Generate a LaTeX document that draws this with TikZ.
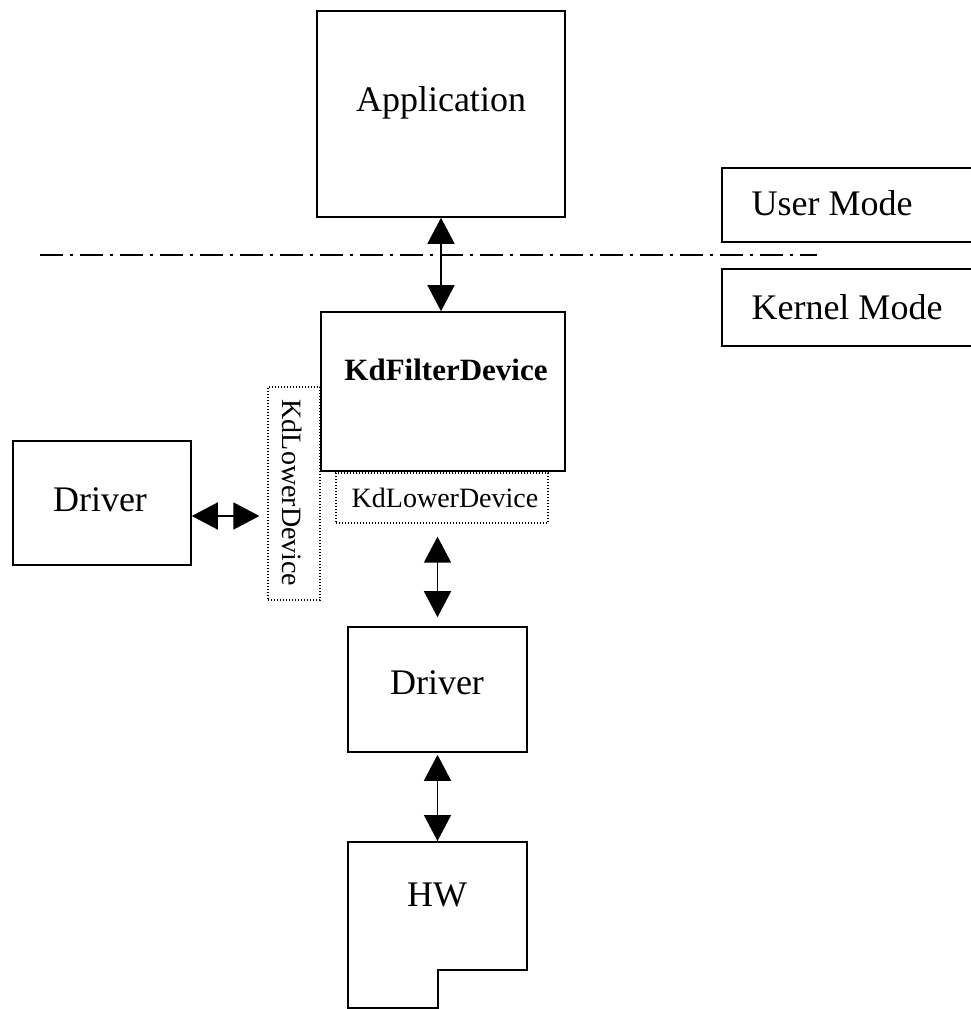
\documentclass[tikz,border=0pt]{standalone}
\usepackage{fontspec}
\setmainfont{Liberation Serif}
\usetikzlibrary{arrows.meta,calc}

\begin{document}
\begin{tikzpicture}[x=1pt,y=-1pt,
  box/.style={draw, line width=1.6pt, inner sep=0pt},
  dotbox/.style={draw, line width=1.2pt, dash pattern=on 1.2pt off 1.8pt, inner sep=0pt},
  biarrow/.style={line width=1.6pt,
    {Triangle[length=26pt,width=27pt]}-{Triangle[length=26pt,width=27pt]}},
  big/.style={font=\fontsize{36}{40}\selectfont},
  bigbold/.style={font=\fontsize{31}{36}\selectfont\bfseries},
  small/.style={font=\fontsize{28}{32}\selectfont}]
\useasboundingbox (0,0) rectangle (971,1009);

% user / kernel boundary
\draw[line width=1.6pt, dash pattern=on 23pt off 7pt on 3pt off 7pt] (40,255) -- (817,255);

% legend boxes on the right
\node[box, anchor=north west, minimum width=260, minimum height=74] (um) at (721,167) {};
\node[big, anchor=west] (umtext) at (748,203) {User Mode};
\node[box, anchor=north west, minimum width=260, minimum height=77] (km) at (721,268) {};
\node[big, anchor=west] (kmtext) at (748,307) {Kernel Mode};

% application
\node[box, minimum width=248, minimum height=206] (app) at (441,114) {};
\node[big] (apptext) at (441,103) {Application};

% filter device
\node[box, minimum width=244, minimum height=159] (kd) at (443,391.5) {};
\node[bigbold] (kdtext) at (446,370) {KdFilterDevice};

% lower devices (dotted)
\node[dotbox, minimum width=52, minimum height=213] (vlow) at (294,493.5) {};
\node[small, rotate=-90] (vlowtext) at (292,493) {KdLowerDevice};
\node[dotbox, minimum width=212, minimum height=50] (klow) at (442,498) {};
\node[small] (klowtext) at (445,498) {KdLowerDevice};

% drivers
\node[box, minimum width=178, minimum height=124] (ldrv) at (102,503) {};
\node[big] (ldrvtext) at (100,500) {Driver};
\node[box, minimum width=179, minimum height=125] (drv) at (437.5,689.5) {};
\node[big] (drvtext) at (437,683) {Driver};

% hardware
\draw[line width=1.6pt] (348,1008) -- (348,842) -- (527,842) -- (527,970)
  -- (438,970) -- (438,1008) -- cycle;
\coordinate (hwtop) at (438,842);
\node[big] (hw) at (437,895) {HW};

% connectors
\draw[biarrow] (app.south) -- (app.south |- kd.north);
\draw[biarrow, shorten >=8pt] ([yshift=-13pt]ldrv.east) -- ([yshift=-13pt]ldrv.east -| vlow.west);
\draw[biarrow, shorten <=13pt, shorten >=9pt] (drv.north |- klow.south) -- (drv.north);
\draw[biarrow, shorten <=2pt, shorten >=1pt] (drv.south) -- (drv.south |- hwtop);
\end{tikzpicture}
\end{document}
